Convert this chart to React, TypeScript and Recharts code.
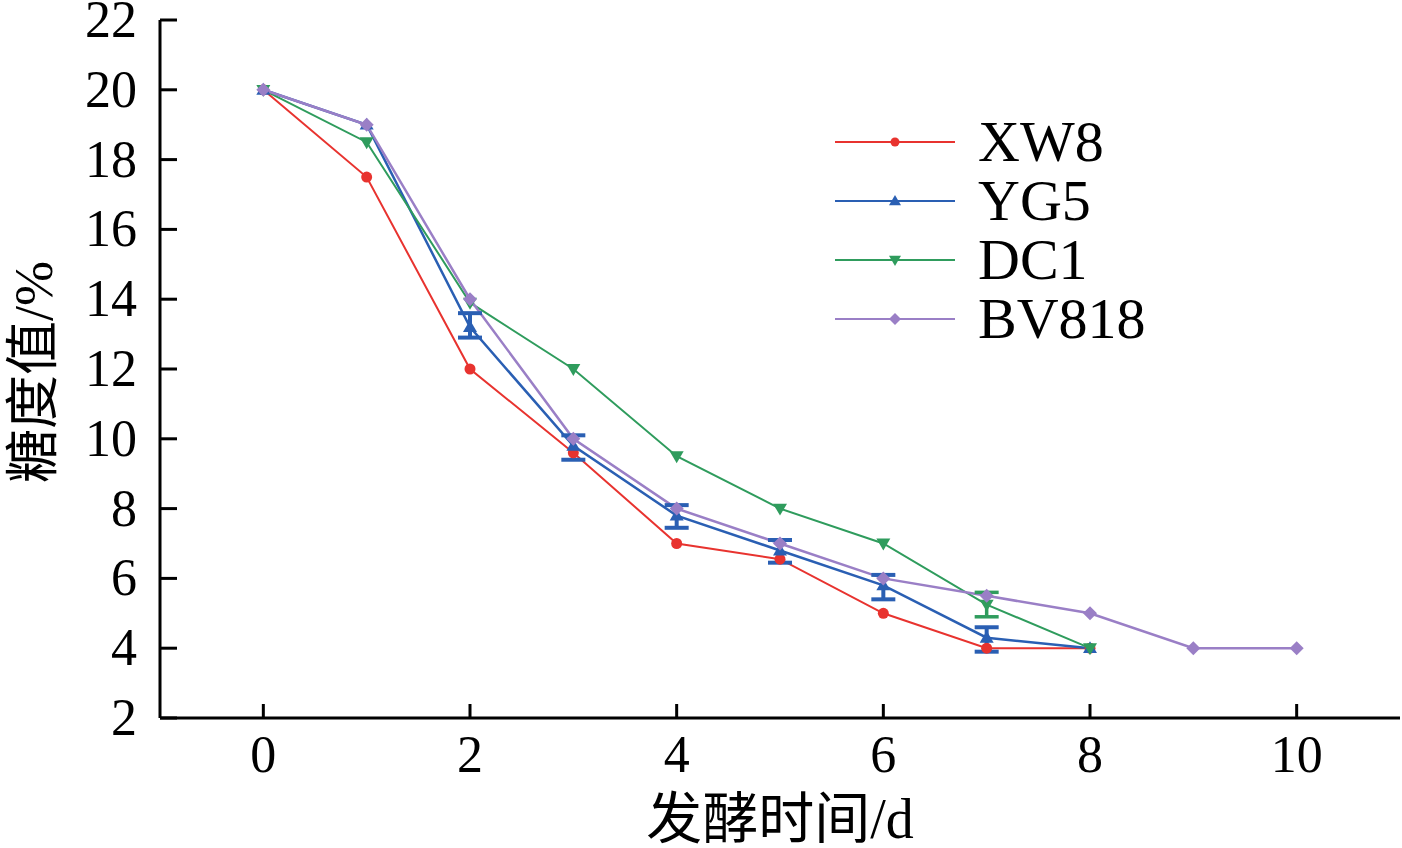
import React from 'react';
import { LineChart, Line, XAxis, YAxis, ErrorBar, Legend } from 'recharts';

const days = [0, 1, 2, 3, 4, 5, 6, 7, 8, 9, 10];
const xw8 = [20, 17.5, 12, 9.6, 7, 6.55, 5, 4, 4, null, null];
const yg5 = [20, 19, 13.2, 9.8, 7.8, 6.8, 5.8, 4.3, 4, null, null];
const yg5Err = [null, null, [0.3, 0.4], [0.4, 0.3], [0.35, 0.3], [0.35, 0.3], [0.4, 0.3], [0.4, 0.3], null, null, null];
const dc1 = [20, 18.5, 13.9, 12, 9.5, 8, 7, 5.25, 4, null, null];
const dc1Err = [null, null, null, null, null, null, null, [0.35, 0.35], null, null, null];
const bv818 = [20, 19, 14, 10, 8, 7, 6, 5.5, 5, 4, 4];
const xTicks = [0, 2, 4, 6, 8, 10];
const yTicks = [2, 4, 6, 8, 10, 12, 14, 16, 18, 20, 22];
const seriesNames = ['XW8', 'YG5', 'DC1', 'BV818'];

const RED = '#e8332f';
const BLUE = '#2a5fb3';
const GREEN = '#2f9c5d';
const PURPLE = '#9a7fc6';

const data = days.map((d, i) => ({
  day: d,
  XW8: xw8[i],
  YG5: yg5[i],
  YG5Err: yg5Err[i],
  DC1: dc1[i],
  DC1Err: dc1Err[i],
  BV818: bv818[i],
}));

const SERIF = "'Liberation Serif', 'Times New Roman', serif";
const CJK = "'Liberation Serif', 'Noto Sans CJK SC', serif";

type Shape = 'circle' | 'up' | 'down' | 'diamond';

function marker(shape: Shape, cx: number, cy: number, color: string, s = 7) {
  if (shape === 'circle') return <circle cx={cx} cy={cy} r={s - 1.5} fill={color} />;
  if (shape === 'up')
    return <polygon points={`${cx},${cy - s} ${cx - s},${cy + s * 0.7} ${cx + s},${cy + s * 0.7}`} fill={color} />;
  if (shape === 'down')
    return <polygon points={`${cx},${cy + s} ${cx - s},${cy - s * 0.7} ${cx + s},${cy - s * 0.7}`} fill={color} />;
  return <polygon points={`${cx},${cy - s} ${cx + s},${cy} ${cx},${cy + s} ${cx - s},${cy}`} fill={color} />;
}

const makeDot = (shape: Shape, color: string) => (props: any) => {
  const { cx, cy, index } = props;
  if (cx == null || cy == null || isNaN(cx) || isNaN(cy)) return <g key={`e${index}`} />;
  return <g key={`d${index}`}>{marker(shape, cx, cy, color)}</g>;
};

const XTick = (props: any) => {
  const { x, y, payload } = props;
  return (
    <g>
      <line x1={x} y1={y} x2={x} y2={y - 14} stroke="#000" strokeWidth={3} />
      <text x={x} y={y + 54} textAnchor="middle" fontSize={52} fontFamily={SERIF} fill="#000">
        {payload.value}
      </text>
    </g>
  );
};

const YTick = (props: any) => {
  const { x, y, payload } = props;
  return (
    <g>
      <line x1={x} y1={y} x2={x + 17} y2={y} stroke="#000" strokeWidth={3} />
      <text x={x - 23} y={y + 17} textAnchor="end" fontSize={52} fontFamily={SERIF} fill="#000">
        {payload.value}
      </text>
    </g>
  );
};

const legendItems: { name: string; color: string; shape: Shape }[] = [
  { name: seriesNames[0], color: RED, shape: 'circle' },
  { name: seriesNames[1], color: BLUE, shape: 'up' },
  { name: seriesNames[2], color: GREEN, shape: 'down' },
  { name: seriesNames[3], color: PURPLE, shape: 'diamond' },
];

const renderLegend = () => (
  <div>
    {legendItems.map((it) => (
      <div key={it.name} style={{ display: 'flex', alignItems: 'center', height: 59 }}>
        <svg width={120} height={20} style={{ marginRight: 23 }}>
          <line x1={0} y1={10} x2={120} y2={10} stroke={it.color} strokeWidth={2} />
          {marker(it.shape, 60, 10, it.color, 6)}
        </svg>
        <span style={{ fontFamily: SERIF, fontSize: 58, lineHeight: '59px', color: '#000' }}>{it.name}</span>
      </div>
    ))}
  </div>
);

export default function App() {
  return (
    <div style={{ position: 'absolute', left: 0, top: 0, width: 1402, height: 848, background: '#fff' }}>
      <LineChart width={1402} height={848} data={data} margin={{ top: 20, right: 2, left: 0, bottom: 0 }}>
        <XAxis
          dataKey="day"
          type="number"
          domain={[-1, 11]}
          ticks={xTicks}
          height={130}
          tickSize={0}
          tickMargin={0}
          tickLine={false}
          axisLine={{ stroke: '#000', strokeWidth: 3 }}
          tick={<XTick />}
          interval={0}
          allowDataOverflow
        />
        <YAxis
          type="number"
          domain={[2, 22]}
          ticks={yTicks}
          width={160}
          tickSize={0}
          tickMargin={0}
          tickLine={false}
          axisLine={{ stroke: '#000', strokeWidth: 3 }}
          tick={<YTick />}
          interval={0}
          allowDataOverflow
        />
        <Legend
          layout="horizontal"
          align="center"
          verticalAlign="middle"
          content={renderLegend}
          wrapperStyle={{ position: 'absolute', left: 835, top: 112, width: 360, bottom: 'auto', right: 'auto' }}
        />
        <Line
          dataKey="XW8"
          stroke={RED}
          strokeWidth={2}
          dot={makeDot('circle', RED)}
          activeDot={false}
          isAnimationActive={false}
        />
        <Line
          dataKey="YG5"
          stroke={BLUE}
          strokeWidth={2.5}
          dot={makeDot('up', BLUE)}
          activeDot={false}
          isAnimationActive={false}
        />
        <Line
          dataKey="DC1"
          stroke={GREEN}
          strokeWidth={2}
          dot={makeDot('down', GREEN)}
          activeDot={false}
          isAnimationActive={false}
        />
        <Line
          dataKey="BV818"
          stroke={PURPLE}
          strokeWidth={2.5}
          dot={makeDot('diamond', PURPLE)}
          activeDot={false}
          isAnimationActive={false}
        />
        <Line
          dataKey="DC1"
          name="DC1 error"
          stroke="none"
          dot={false}
          activeDot={false}
          legendType="none"
          isAnimationActive={false}
        >
          <ErrorBar dataKey="DC1Err" width={12} strokeWidth={3.5} stroke={GREEN} direction="y" isAnimationActive={false} />
        </Line>
        <Line
          dataKey="YG5"
          name="YG5 error"
          stroke="none"
          dot={false}
          activeDot={false}
          legendType="none"
          isAnimationActive={false}
        >
          <ErrorBar dataKey="YG5Err" width={12} strokeWidth={4} stroke={BLUE} direction="y" isAnimationActive={false} />
        </Line>
        <text x={780} y={838} textAnchor="middle" fontSize={56} fontFamily={CJK} fill="#000">
          发酵时间/d
        </text>
        <text
          x={52}
          y={372}
          textAnchor="middle"
          fontSize={54}
          fontFamily={CJK}
          fill="#000"
          transform="rotate(-90 52 372)"
        >
          糖度值/%
        </text>
      </LineChart>
    </div>
  );
}
